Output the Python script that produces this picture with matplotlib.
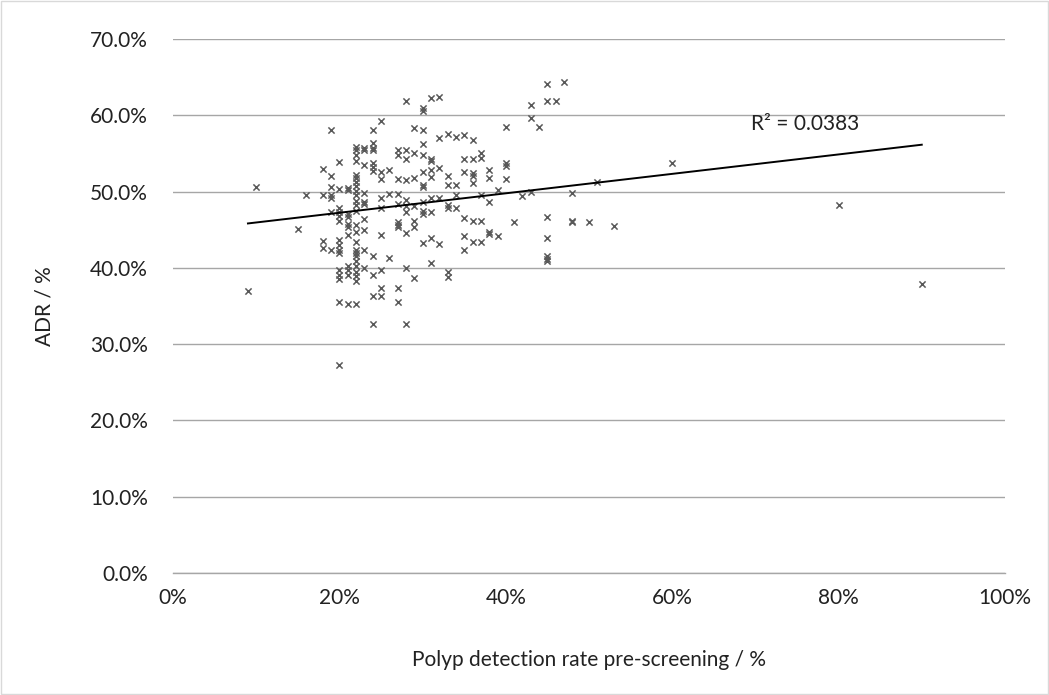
import numpy as np
import matplotlib.pyplot as plt
from matplotlib.patches import Rectangle
from matplotlib.ticker import FuncFormatter

# polyp detection rate pre-screening (%) -> ADR (%) for each endoscopist
pdr = [9, 10, 15, 16,
       18, 18, 18, 18,
       19, 19, 19, 19, 19, 19, 19,
       20, 20, 20, 20, 20, 20, 20, 20, 20, 20, 20, 20, 20, 20, 20,
       21, 21, 21, 21, 21, 21, 21, 21, 21, 21, 21,
       22, 22, 22, 22, 22, 22, 22, 22, 22, 22, 22, 22, 22, 22, 22, 22, 22, 22, 22, 22, 22, 22, 22, 22, 22,
       23, 23, 23, 23, 23, 23, 23, 23, 23, 23,
       24, 24, 24, 24, 24, 24, 24, 24, 24, 24, 24,
       25, 25, 25, 25, 25, 25, 25, 25, 25,
       26, 26, 26,
       27, 27, 27, 27, 27, 27, 27, 27, 27, 27,
       28, 28, 28, 28, 28, 28, 28, 28, 28, 28,
       29, 29, 29, 29, 29, 29, 29,
       30, 30, 30, 30, 30, 30, 30, 30, 30, 30, 30, 30,
       31, 31, 31, 31, 31, 31, 31, 31, 31,
       32, 32, 32, 32, 32,
       33, 33, 33, 33, 33, 33, 33,
       34, 34, 34, 34,
       35, 35, 35, 35, 35, 35,
       36, 36, 36, 36, 36, 36, 36,
       37, 37, 37, 37, 37,
       38, 38, 38, 38, 38,
       39, 39,
       40, 40, 40, 40,
       41, 42, 43, 43, 43, 44,
       45, 45, 45, 45, 45, 45, 45,
       46, 47, 48, 48, 48, 50, 51, 53, 60, 80, 90]

adr = [37.0, 50.6, 45.1, 49.6,
       53.0, 49.6, 43.5, 42.6,
       58.1, 52.0, 50.6, 49.5, 49.2, 47.3, 42.4,
       53.9, 50.3, 47.9, 47.3, 46.8, 46.2, 43.6, 43.0, 42.4, 41.9, 39.7, 39.1, 38.6, 35.5, 27.3,
       50.5, 50.2, 47.1, 46.7, 45.8, 45.3, 44.3, 40.2, 39.7, 39.1, 35.3,
       55.9, 55.5, 54.8, 54.0, 52.2, 51.8, 51.3, 50.7, 50.1, 49.5, 48.7, 48.2, 47.5, 45.6, 44.7, 43.4,
       42.3, 41.9, 41.5, 40.9, 40.2, 39.5, 38.9, 38.3, 35.3,
       55.7, 55.4, 53.5, 49.8, 48.6, 48.3, 46.4, 45.0, 42.4, 40.0,
       58.1, 56.3, 55.7, 55.4, 53.8, 53.2, 52.7, 41.6, 39.1, 36.3, 32.6,
       59.3, 52.5, 51.6, 49.2, 47.8, 44.3, 39.7, 37.4, 36.3,
       52.8, 49.7, 41.3,
       55.5, 54.8, 51.6, 49.7, 48.4, 46.0, 45.6, 45.3, 37.4, 35.5,
       61.9, 55.4, 54.2, 51.5, 48.9, 48.1, 47.3, 44.6, 40.0, 32.6,
       58.3, 55.0, 51.8, 48.1, 46.2, 45.3, 38.7,
       60.9, 60.6, 58.1, 56.2, 54.8, 52.6, 50.9, 50.6, 48.6, 47.4, 47.1, 43.3,
       62.3, 54.2, 54.0, 52.8, 51.9, 49.1, 47.3, 43.9, 40.6,
       62.4, 57.0, 53.1, 49.1, 43.1,
       57.5, 52.0, 50.8, 48.2, 47.9, 39.5, 38.8,
       57.2, 50.8, 49.5, 47.9,
       57.4, 54.3, 52.6, 46.5, 44.2, 42.3,
       56.8, 54.2, 52.4, 52.0, 51.1, 46.2, 43.4,
       55.0, 54.4, 49.5, 46.2, 43.4,
       52.8, 51.8, 48.6, 44.7, 44.4,
       50.2, 44.2,
       58.4, 53.7, 53.3, 51.7,
       46.0, 49.4, 61.3, 59.7, 50.0, 58.5,
       64.1, 61.9, 46.7, 43.9, 41.6, 41.2, 40.9,
       61.9, 64.3, 49.8, 46.2, 46.0, 46.0, 51.2, 45.5, 53.8, 48.2, 37.9]

r2_label = "R² = 0.0383"

x = np.array(pdr) / 100.0
y = np.array(adr) / 100.0

plt.rcParams['font.family'] = ['Lato', 'DejaVu Sans']
fs = 15

fig = plt.figure(figsize=(10.49, 6.95), dpi=100)
ax = fig.add_axes([0.165, 0.1755, 0.793, 0.7685])

ax.scatter(x, y, marker='x', s=20, color='#595959', linewidths=1.1, zorder=3)

# linear trendline across the range of the data
slope, intercept = np.polyfit(x, y, 1)
xs = np.array([x.min(), x.max()])
ax.plot(xs, slope * xs + intercept, color='black', lw=1.4, zorder=4)
ax.text(0.695, 0.588, r2_label, fontsize=fs, color='#222222', va='center', zorder=5)

ax.set_xlim(0, 1.0)
ax.set_ylim(0, 0.70)
ax.set_xticks(np.arange(0, 1.01, 0.2))
ax.set_yticks(np.arange(0, 0.701, 0.1))
ax.xaxis.set_major_formatter(FuncFormatter(lambda v, p: f"{v*100:.0f}%"))
ax.yaxis.set_major_formatter(FuncFormatter(lambda v, p: f"{v*100:.1f}%"))
ax.tick_params(axis='both', length=0, labelsize=fs, labelcolor='#222222')
ax.tick_params(axis='y', pad=18)
ax.tick_params(axis='x', pad=11)

ax.grid(axis='y', color='#a6a6a6', lw=1.0)
ax.set_axisbelow(True)
for side in ['top', 'right', 'left']:
    ax.spines[side].set_visible(False)
ax.spines['bottom'].set_color('#a6a6a6')
ax.spines['bottom'].set_linewidth(1.0)

ax.set_xlabel("Polyp detection rate pre-screening / %", fontsize=fs, color='#222222', labelpad=30)
ax.set_ylabel("ADR / %", fontsize=fs, color='#222222', labelpad=26)

fig.patches.append(Rectangle((0.001, 0.001), 0.998, 0.998, transform=fig.transFigure,
                             fill=False, edgecolor='#d9d9d9', lw=1.0))

fig.savefig("out.png", dpi=100)
